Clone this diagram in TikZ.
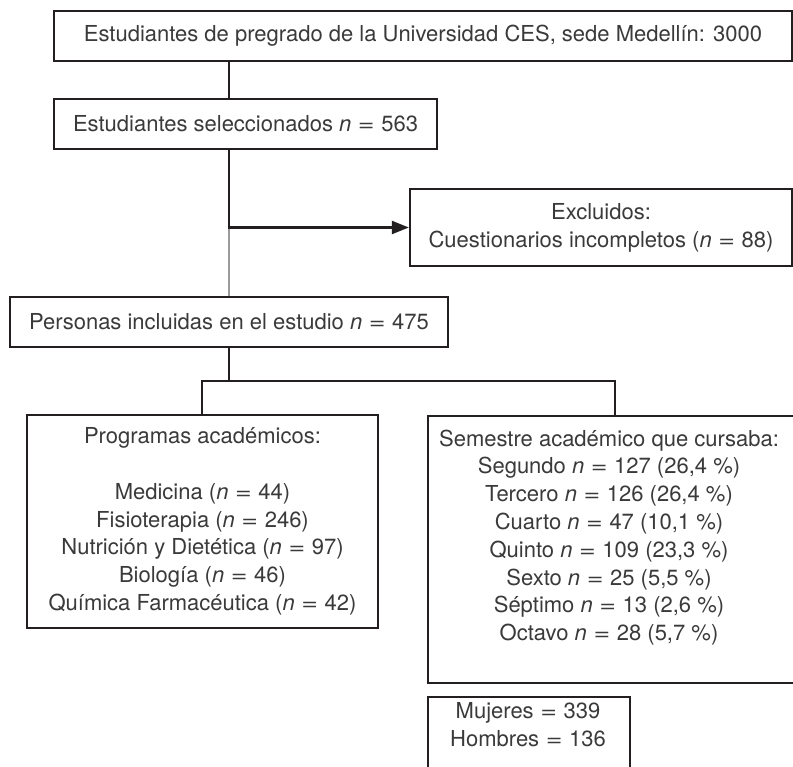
\documentclass[tikz,border=0pt]{standalone}
\usepackage{fontspec}
\usepackage{graphicx}
\setmainfont{TeX Gyre Heros}
\usetikzlibrary{arrows.meta}
\definecolor{linec}{HTML}{231F20}
\definecolor{txtc}{HTML}{3A3A3A}
\definecolor{grayc}{HTML}{9A9A9A}
\newcommand{\eqq}{\hspace{0.3em}\scalebox{1.3}[1]{=}\hspace{0.3em}}
\begin{document}
\begin{tikzpicture}[x=1pt,y=-1pt,
  box/.style={draw=linec, line width=2.4pt, inner sep=0pt, align=center,
    font=\fontsize{22}{27.8}\selectfont, text=txtc},
  txt/.style={inner sep=0pt, align=center, font=\fontsize{22}{27.8}\selectfont, text=txtc},
  conn/.style={draw=linec, line width=2.4pt},
  grayconn/.style={draw=grayc, line width=2.4pt}]
\useasboundingbox (0,0) rectangle (793,767);
\clip (0,0) rectangle (793,767);
\fill[white] (0,0) rectangle (793,767);

\node[box, minimum width=738pt, minimum height=50pt] (top) at (423,36)
  {Estudiantes de pregrado de la Universidad CES, sede Medellín: 3000};
\node[box, minimum width=383pt, minimum height=50pt] (sel) at (245.5,124)
  {Estudiantes seleccionados \textit{n}\eqq 563};
\node[box, minimum width=382pt, minimum height=77pt] (exc) at (601,227.5)
  {Excluidos:\\Cuestionarios incompletos (\textit{n}\eqq 88)};
\node[box, minimum width=438pt, minimum height=50pt] (per) at (229,322)
  {Personas incluidas en el estudio \textit{n}\eqq 475};
\node[box, minimum width=351pt, minimum height=213pt] (prog) at (202.5,521.5)
  {Programas académicos:\\[27.8pt]
   Medicina (\textit{n}\eqq 44)\\
   Fisioterapia (\textit{n}\eqq 246)\\
   Nutrición y Dietética (\textit{n}\eqq 97)\\
   Biología (\textit{n}\eqq 46)\\
   Química Farmacéutica (\textit{n}\eqq 42)};
\node[box, minimum width=380pt, minimum height=267pt, anchor=north west] (sem) at (427,415) {};
\node[txt] (semt) at (609,537.5)
  {Semestre académico que cursaba:\\
   Segundo \textit{n}\eqq 127 (26,4 \%)\\
   Tercero \textit{n}\eqq 126 (26,4 \%)\\
   Cuarto \textit{n}\eqq 47 (10,1 \%)\\
   Quinto \textit{n}\eqq 109 (23,3 \%)\\
   Sexto \textit{n}\eqq 25 (5,5 \%)\\
   Séptimo \textit{n}\eqq 13 (2,6 \%)\\
   Octavo \textit{n}\eqq 28 (5,7 \%)};
\node[box, minimum width=202pt, minimum height=100pt, anchor=north west] (sexo) at (427,696) {};
\node[txt] (sext) at (528,725) {Mujeres\eqq 339\\Hombres\eqq 136};

\coordinate (tx) at (229,0);
\coordinate (px) at (202,0);
\coordinate (sx) at (615,0);
\coordinate (bar) at (0,381);

\draw[conn] (top.south -| tx) -- (sel.north -| tx);
\draw[conn] (sel.south -| tx) -- (exc.west -| tx);
\draw[grayconn] (exc.west -| tx) -- (per.north -| tx);
\draw[conn, -{Triangle[length=17pt,width=13pt]}] ([xshift=-1.2pt]exc.west -| tx) -- (exc.west);
\draw[conn] (per.south -| tx) -- (bar -| tx);
\draw[conn] (prog.north -| px) -- (bar -| px) -- (bar -| sx) -- (sem.north -| sx);
\end{tikzpicture}
\end{document}
